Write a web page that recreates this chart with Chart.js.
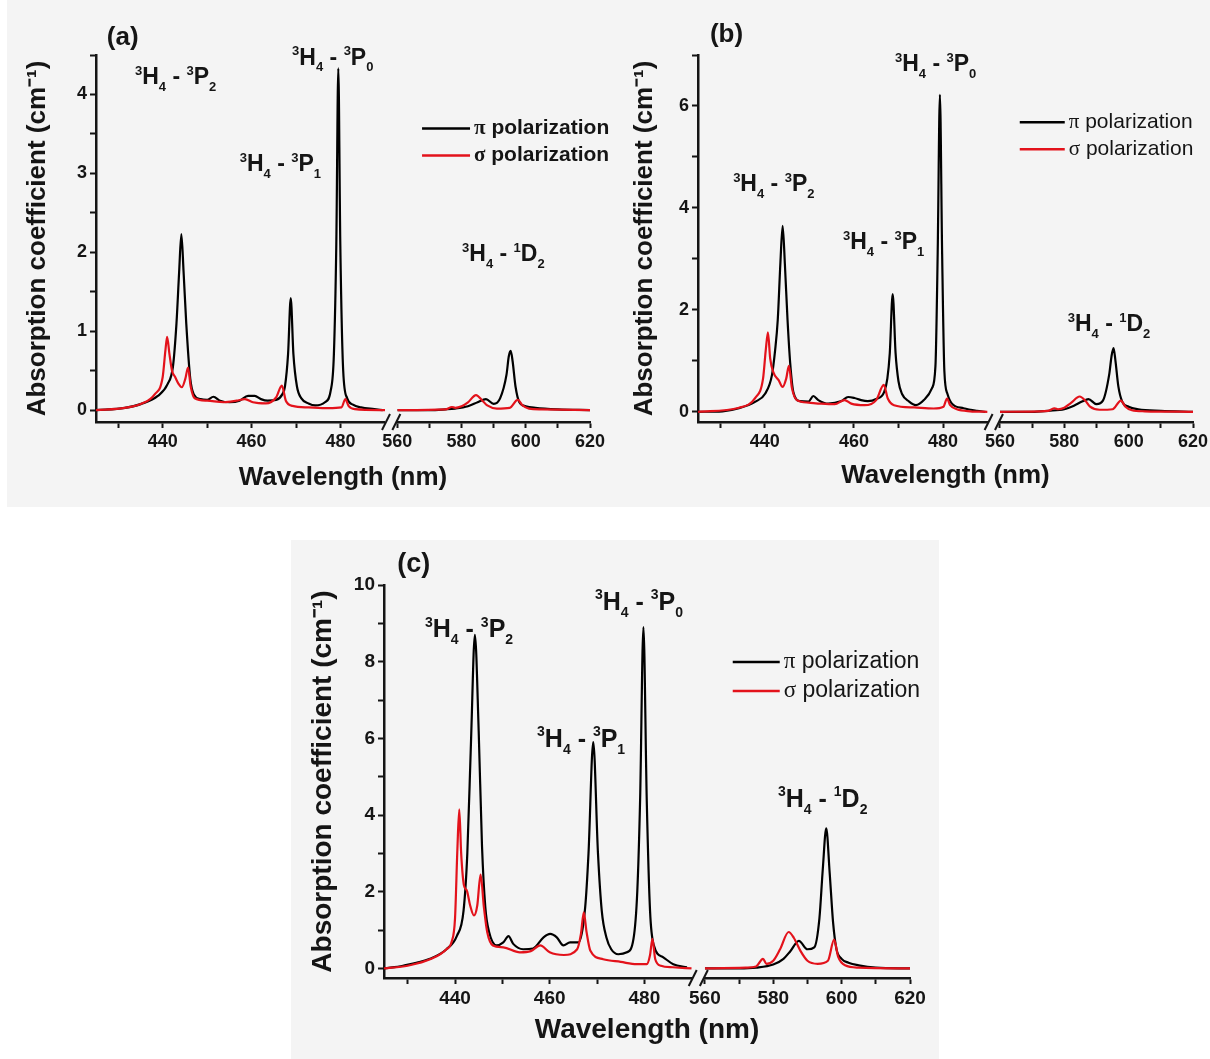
<!DOCTYPE html>
<html>
<head>
<meta charset="utf-8">
<script src="https://cdn.jsdelivr.net/npm/chart.js@4.4.0/dist/chart.umd.min.js"></script>
<style>
body { margin: 0; background: #fff; overflow: hidden; width: 1210px; height: 1059px; position: relative; }
.bg { position: absolute; background: #f4f4f4; }
canvas { position: absolute; }
</style>
</head>
<body>
<div class="bg" style="left:7px;top:0;width:1203px;height:507px"></div>
<div class="bg" style="left:291px;top:540px;width:648px;height:519px"></div>
<canvas id="chartA" width="620" height="505" style="left:0;top:0"></canvas>
<canvas id="chartB" width="620" height="505" style="left:605px;top:0"></canvas>
<canvas id="chartC" width="646" height="519" style="left:293px;top:540px"></canvas>
<script>
// wavelength windows either side of the axis break
const LEFT_RANGE = [425, 490];
const RIGHT_RANGE = [560, 620];

const PI_LABEL = 'π polarization';
const SIGMA_LABEL = 'σ polarization';

// (a) pi polarization
const aPiX = [425, 431.5, 435.2, 438.9, 441.1, 442.3, 443.1, 443.7, 444.2, 444.7, 445.3, 446.2, 447, 448.5, 450, 451.4, 452.9, 455.1, 457.3, 459.2, 460.7, 462.1, 463.6, 465.5, 466.9, 467.5, 468.2, 468.8, 469.4, 470.2, 471.2, 472.8, 474.3, 476.5, 477.8, 478.5, 479.05, 479.5, 479.95, 480.6, 481.5, 482.8, 484.6, 487.6, 489.5,
    560, 570, 575, 578, 582, 585, 587.6, 590, 592, 594, 594.7, 595.3, 595.9, 596.8, 598, 600, 603, 610, 620];
const aPi = [0, 0.03, 0.08, 0.18, 0.33, 0.55, 1.1, 1.75, 2.23, 1.75, 1.1, 0.4, 0.2, 0.14, 0.13, 0.17, 0.12, 0.1, 0.12, 0.18, 0.18, 0.14, 0.12, 0.13, 0.2, 0.3, 0.71, 1.42, 0.71, 0.3, 0.15, 0.085, 0.06, 0.1, 0.25, 0.7, 2.1, 4.33, 2.1, 0.5, 0.15, 0.07, 0.035, 0.013, 0,
    0, 0, 0.01, 0.02, 0.05, 0.1, 0.14, 0.08, 0.15, 0.45, 0.68, 0.75, 0.62, 0.3, 0.1, 0.05, 0.03, 0.01, 0];
// (a) sigma polarization
const aSigX = [425, 431.5, 435.2, 438.2, 440, 440.6, 441, 441.5, 442.1, 442.8, 443.6, 444.3, 445.1, 445.7, 446.3, 447.2, 450, 453.7, 456.6, 458.5, 460.3, 463.2, 465.5, 466.8, 467.7, 469.2, 472.8, 477.3, 480.2, 481.1, 481.8, 483.2, 490,
    560, 575, 577, 578, 580, 582, 584.5, 586.5, 588, 591, 595, 597.5, 599, 601, 605, 620];
const aSig = [0, 0.03, 0.08, 0.2, 0.42, 0.75, 0.93, 0.72, 0.5, 0.42, 0.33, 0.29, 0.4, 0.54, 0.3, 0.15, 0.12, 0.1, 0.12, 0.14, 0.1, 0.085, 0.16, 0.31, 0.12, 0.055, 0.035, 0.025, 0.035, 0.14, 0.055, 0.013, 0,
    0, 0.01, 0.04, 0.03, 0.05, 0.1, 0.19, 0.12, 0.06, 0.02, 0.03, 0.13, 0.06, 0.02, 0.01, 0];

// (b) pi polarization
const bPiX = [425, 430.5, 434.2, 437.9, 440.1, 441.6, 442.3, 442.9, 443.5, 444, 444.5, 445.1, 445.7, 446.4, 447.9, 449.8, 450.9, 452, 454.2, 457.2, 458.7, 460.1, 461.6, 463.1, 465, 466.8, 467.5, 468.05, 468.7, 469.35, 470, 470.8, 472.4, 473.9, 475.7, 477.5, 478.3, 478.8, 479.3, 479.8, 480.3, 481, 482, 484.6, 487.6, 489.5,
    560, 570, 575, 580, 583, 585.5, 587.5, 590, 592, 594, 594.7, 595.3, 595.9, 596.8, 598, 600, 603, 610, 620];
const bPi = [0, 0.01, 0.07, 0.2, 0.36, 0.72, 1.2, 1.8, 2.93, 3.65, 2.9, 1.8, 0.95, 0.39, 0.21, 0.2, 0.31, 0.23, 0.16, 0.21, 0.29, 0.27, 0.23, 0.21, 0.25, 0.39, 0.65, 1.15, 2.31, 1.15, 0.6, 0.35, 0.2, 0.13, 0.23, 0.46, 0.9, 3.1, 6.22, 3.1, 0.8, 0.35, 0.16, 0.07, 0.02, 0,
    0, 0, 0.02, 0.05, 0.12, 0.2, 0.25, 0.15, 0.22, 0.75, 1.1, 1.25, 1.0, 0.5, 0.2, 0.1, 0.05, 0.02, 0];
// (b) sigma polarization
const bSigX = [425, 434.2, 437.9, 439.6, 440.2, 440.7, 441.2, 441.9, 443.1, 444, 444.8, 445.4, 446.1, 447.2, 449.8, 452.7, 455.7, 457.9, 459.4, 462.4, 465, 466.7, 467.6, 469, 473.5, 477.9, 480.1, 480.9, 481.6, 483.1, 486.1, 490,
    560, 575, 577, 578, 580, 582, 584.8, 586.5, 588, 591, 595, 597.6, 599, 601, 605, 620];
const bSig = [0, 0.08, 0.28, 0.65, 1.2, 1.56, 1.05, 0.78, 0.62, 0.49, 0.65, 0.9, 0.46, 0.23, 0.18, 0.16, 0.15, 0.23, 0.16, 0.13, 0.23, 0.53, 0.26, 0.13, 0.085, 0.065, 0.1, 0.26, 0.13, 0.05, 0.01, 0,
    0, 0.02, 0.07, 0.05, 0.08, 0.17, 0.3, 0.22, 0.1, 0.04, 0.05, 0.22, 0.1, 0.03, 0.01, 0];

// (c) pi polarization
const cPiX = [425, 429, 434.7, 438.2, 440.4, 441.8, 442.6, 443.4, 444.2, 445, 445.7, 446.4, 447.2, 448.8, 450.2, 451.3, 452.3, 454.4, 456.5, 458.7, 460.1, 461.5, 462.9, 464.3, 466.1, 467.5, 468.2, 469.2, 470.2, 471, 472, 473, 474.5, 476.3, 477.7, 478.5, 479.1, 479.8, 480.5, 481.2, 482, 484, 486.1, 489,
    560, 570, 575, 580, 583, 585, 587.5, 590, 592, 593.5, 594.5, 595.5, 596.5, 597.5, 598.5, 600, 602, 605, 610, 620];
const cPi = [0, 0.07, 0.25, 0.5, 0.85, 1.5, 3.0, 6.0, 8.7, 6.2, 3.2, 1.6, 0.95, 0.6, 0.68, 0.84, 0.64, 0.5, 0.52, 0.81, 0.9, 0.81, 0.6, 0.68, 0.68, 1.6, 3.0, 5.9, 3.0, 1.5, 0.8, 0.5, 0.37, 0.42, 0.77, 2.0, 4.4, 8.9, 4.4, 1.5, 0.6, 0.29, 0.11, 0.03,
    0, 0, 0.02, 0.1, 0.25, 0.45, 0.72, 0.5, 0.55, 1.3, 2.6, 3.65, 2.5, 1.2, 0.5, 0.25, 0.15, 0.08, 0.02, 0];
// (c) sigma polarization
const cSigX = [425, 430, 435, 438.2, 439.3, 440, 440.5, 440.9, 441.3, 441.9, 442.5, 443.2, 444, 444.7, 445.4, 446.1, 446.8, 448, 450.2, 453.7, 456, 458, 460, 463, 465.8, 466.6, 467.2, 467.8, 468.6, 471.3, 475, 478.4, 480.5, 481.2, 481.7, 482.3, 483.5, 486, 490,
    560, 572, 575, 577, 578, 580, 582, 584.5, 586, 588, 590, 593, 596, 597.8, 599, 601, 605, 620];
const cSig = [0, 0.07, 0.25, 0.5, 0.7, 1.3, 3.1, 4.15, 3.0, 2.16, 2.03, 1.64, 1.38, 1.64, 2.45, 1.6, 0.95, 0.6, 0.55, 0.42, 0.45, 0.6, 0.42, 0.35, 0.5, 0.9, 1.46, 0.94, 0.46, 0.24, 0.17, 0.11, 0.11, 0.35, 0.77, 0.24, 0.07, 0.03, 0,
    0, 0.02, 0.05, 0.25, 0.12, 0.2, 0.5, 0.95, 0.8, 0.45, 0.2, 0.12, 0.2, 0.75, 0.3, 0.08, 0.02, 0];

// transition labels: ^ = superscript, _ = subscript
const P2_TEXT = '^3H_4 - ^3P_2';
const P1_TEXT = '^3H_4 - ^3P_1';
const P0_TEXT = '^3H_4 - ^3P_0';
const D2_TEXT = '^3H_4 - ^1D_2';

const FONT = "'Liberation Sans', Arial, sans-serif";
const SERIF = "'Liberation Serif', 'Times New Roman', serif";
const INK = '#151515';
const RED = '#e3121b';

function drawRich(ctx, text, x, y, size) {
    let cx = x;
    for (let i = 0; i < text.length; i++) {
        let ch = text[i], dy = 0, sz = size;
        if (ch === '^' || ch === '_') {
            dy = ch === '^' ? -size * 0.3 : size * 0.4;
            sz = Math.round(size * 0.58);
            ch = text[++i];
        }
        ctx.font = `bold ${sz}px ${FONT}`;
        ctx.fillText(ch, cx, y + dy);
        cx += ctx.measureText(ch).width;
    }
}

// labels, legend, x title and the // break marks
const decoPlugin = {
    id: 'deco',
    afterDraw(chart, args, o) {
        const { ctx, chartArea: a } = chart;
        const fx = f => a.left + f * (a.right - a.left);
        const fy = f => a.top + f * (a.bottom - a.top);
        ctx.save();
        ctx.fillStyle = INK;
        ctx.textBaseline = 'middle';
        ctx.textAlign = 'left';

        ctx.font = `bold ${o.tagSize}px ${FONT}`;
        ctx.fillText(o.tag, fx(o.tagPos[0]), fy(o.tagPos[1]));

        o.labels.forEach(l => drawRich(ctx, l.text, fx(l.pos[0]), fy(l.pos[1]), o.labelSize));

        // legend from the left-hand datasets, pi first
        const entries = chart.data.datasets.filter(d => d.xAxisID === 'xL').reverse();
        entries.forEach((d, i) => {
            const x0 = fx(o.legendPos[0]);
            const y0 = fy(o.legendPos[1]) + i * o.legendGap;
            ctx.strokeStyle = d.borderColor;
            ctx.lineWidth = 2.5;
            ctx.beginPath();
            ctx.moveTo(x0, y0);
            ctx.lineTo(x0 + o.legendLen, y0);
            ctx.stroke();
            let tx = x0 + o.legendLen + 4;
            ctx.fillStyle = INK;
            ctx.font = `${o.legendWeight} ${o.legendSize}px ${SERIF}`;
            ctx.fillText(d.label[0], tx, y0);
            tx += ctx.measureText(d.label[0]).width;
            ctx.font = `${o.legendWeight} ${o.legendSize}px ${FONT}`;
            ctx.fillText(d.label.slice(1), tx, y0);
        });

        ctx.textAlign = 'center';
        ctx.font = `bold ${o.titleSize}px ${FONT}`;
        ctx.fillText('Wavelength (nm)', (a.left + a.right) / 2, o.xTitleY);

        const yb = a.bottom;
        [chart.scales.xL.right + 1, chart.scales.xR.left - 1].forEach(x => {
            ctx.strokeStyle = INK;
            ctx.lineWidth = 2;
            ctx.beginPath();
            ctx.moveTo(x - 4, yb + 8);
            ctx.lineTo(x + 4, yb - 8);
            ctx.stroke();
        });
        ctx.restore();
    }
};

const panels = [
    {
        id: 'chartA', piX: aPiX, pi: aPi, sigX: aSigX, sig: aSig,
        yMin: -0.15, yMax: 4.5, yStep: 0.5, yLabelEvery: 1,
        canvasW: 620, canvasH: 505, area: { l: 96, r: 590, t: 55, b: 422 },
        yWidth: 74, xHeight: 32, tickSize: 18, yTitleSize: 26,
        deco: {
            tag: '(a)', tagSize: 26, tagPos: [0.022, -0.046],
            labelSize: 23,
            labels: [
                { text: P2_TEXT, pos: [0.079, 0.063] },
                { text: P0_TEXT, pos: [0.397, 0.01] },
                { text: P1_TEXT, pos: [0.291, 0.30] },
                { text: D2_TEXT, pos: [0.741, 0.545] }
            ],
            legendPos: [0.66, 0.2], legendGap: 27, legendLen: 48, legendSize: 21, legendWeight: 'bold',
            titleSize: 26, xTitleY: 478
        }
    },
    {
        id: 'chartB', piX: bPiX, pi: bPi, sigX: bSigX, sig: bSig,
        yMin: -0.2, yMax: 7, yStep: 1, yLabelEvery: 2,
        canvasW: 620, canvasH: 505, area: { l: 93, r: 588, t: 55, b: 422 },
        yWidth: 69, xHeight: 32, tickSize: 18, yTitleSize: 26,
        deco: {
            tag: '(b)', tagSize: 26, tagPos: [0.024, -0.054],
            labelSize: 23,
            labels: [
                { text: P2_TEXT, pos: [0.071, 0.354] },
                { text: P1_TEXT, pos: [0.293, 0.512] },
                { text: P0_TEXT, pos: [0.398, 0.027] },
                { text: D2_TEXT, pos: [0.747, 0.736] }
            ],
            legendPos: [0.65, 0.183], legendGap: 27, legendLen: 45, legendSize: 21, legendWeight: 'normal',
            titleSize: 26, xTitleY: 476
        }
    },
    {
        id: 'chartC', piX: cPiX, pi: cPi, sigX: cSigX, sig: cSig,
        yMin: -0.25, yMax: 10, yStep: 1, yLabelEvery: 2,
        canvasW: 646, canvasH: 519, area: { l: 91, r: 617, t: 45, b: 438 },
        yWidth: 78, xHeight: 34, tickSize: 19, yTitleSize: 28,
        deco: {
            tag: '(c)', tagSize: 27, tagPos: [0.025, -0.051],
            labelSize: 25,
            labels: [
                { text: P2_TEXT, pos: [0.078, 0.115] },
                { text: P0_TEXT, pos: [0.401, 0.046] },
                { text: P1_TEXT, pos: [0.291, 0.394] },
                { text: D2_TEXT, pos: [0.749, 0.547] }
            ],
            legendPos: [0.663, 0.196], legendGap: 29, legendLen: 47, legendSize: 23, legendWeight: 'normal',
            titleSize: 28, xTitleY: 490
        }
    }
];

function buildPanel(p) {
    const pick = (xs, ys, lo, hi) => xs.map((x, i) => ({ x, y: ys[i] })).filter(pt => pt.x >= lo && pt.x <= hi);
    const line = (label, color, xs, ys, axis, range) => ({
        label, data: pick(xs, ys, range[0], range[1]), xAxisID: axis, yAxisID: 'y',
        borderColor: color, borderWidth: 2.2, pointRadius: 0, fill: false,
        cubicInterpolationMode: 'monotone'
    });
    const tickFont = { family: FONT, size: p.tickSize, weight: 'bold' };
    const grid = { drawOnChartArea: false, drawTicks: true, tickLength: 6, tickWidth: 2, tickColor: INK };
    const border = { display: true, color: INK, width: 2.5 };
    const xTicks = { stepSize: 10, autoSkip: false, maxRotation: 0, includeBounds: false, font: tickFont, color: INK, padding: 3,
        callback: v => (v % 20 === 0 ? v : '') };

    return new Chart(document.getElementById(p.id), {
        type: 'line',
        data: {
            datasets: [
                line(SIGMA_LABEL, RED, p.sigX, p.sig, 'xL', LEFT_RANGE),
                line(SIGMA_LABEL, RED, p.sigX, p.sig, 'xR', RIGHT_RANGE),
                line(PI_LABEL, '#000', p.piX, p.pi, 'xL', LEFT_RANGE),
                line(PI_LABEL, '#000', p.piX, p.pi, 'xR', RIGHT_RANGE)
            ]
        },
        options: {
            responsive: false,
            animation: false,
            layout: {
                padding: {
                    left: p.area.l - p.yWidth,
                    right: p.canvasW - p.area.r,
                    top: p.area.t,
                    bottom: p.canvasH - p.area.b - p.xHeight
                }
            },
            plugins: {
                legend: { display: false },
                tooltip: { enabled: false },
                deco: p.deco
            },
            scales: {
                xL: {
                    type: 'linear', position: 'bottom', stack: 'wl', stackWeight: 58.5,
                    min: LEFT_RANGE[0], max: LEFT_RANGE[1],
                    ticks: xTicks, grid, border,
                    afterBuildTicks: s => { s.ticks = s.ticks.filter(t => t.value <= 480); },
                    afterFit: s => { s.height = p.xHeight; }
                },
                xGap: {
                    type: 'linear', position: 'bottom', stack: 'wl', stackWeight: 2.5,
                    min: LEFT_RANGE[1], max: RIGHT_RANGE[0], display: false
                },
                xR: {
                    type: 'linear', position: 'bottom', stack: 'wl', stackWeight: 39,
                    min: RIGHT_RANGE[0], max: RIGHT_RANGE[1],
                    ticks: xTicks, grid, border,
                    afterFit: s => { s.height = p.xHeight; }
                },
                y: {
                    position: 'left', min: p.yMin, max: p.yMax,
                    ticks: {
                        stepSize: p.yStep, includeBounds: false, font: tickFont, color: INK, padding: 3,
                        callback: v => (Math.abs(v / p.yLabelEvery - Math.round(v / p.yLabelEvery)) < 1e-6 ? v : '')
                    },
                    grid, border,
                    title: {
                        display: true, text: 'Absorption coefficient (cm⁻¹)', color: INK,
                        font: { family: FONT, size: p.yTitleSize, weight: 'bold' }, padding: { top: 0, bottom: 0 }
                    },
                    afterFit: s => { s.width = p.yWidth; }
                }
            }
        },
        plugins: [decoPlugin]
    });
}

panels.forEach(buildPanel);
</script>
</body>
</html>
